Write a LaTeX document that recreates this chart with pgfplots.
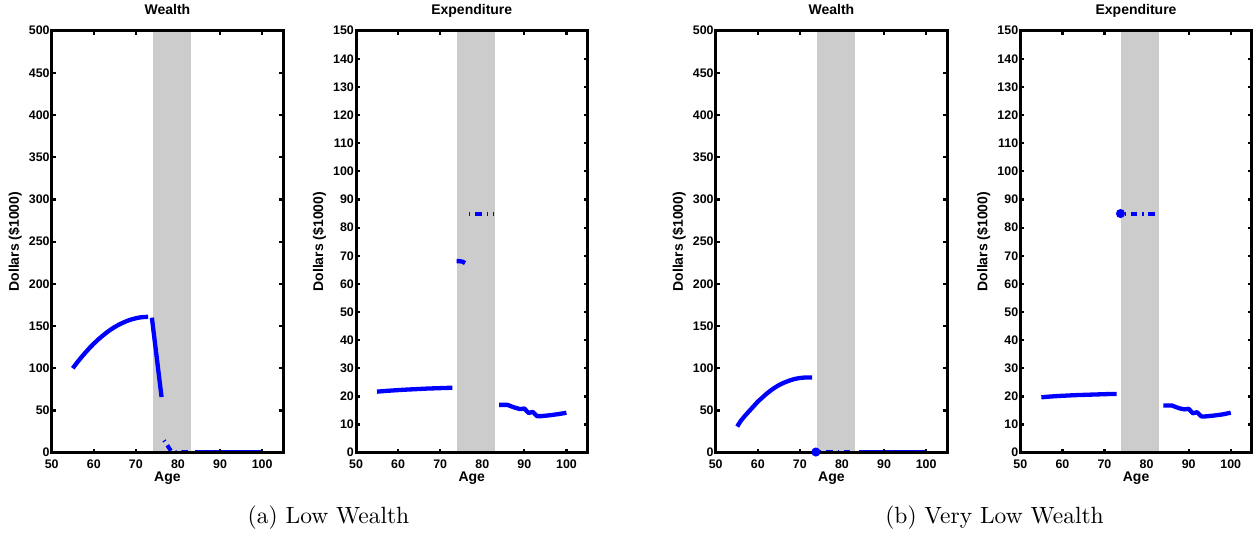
\documentclass[border=0pt]{standalone}
\usepackage{pgfplots}
\pgfplotsset{compat=1.18}
\usepackage{graphicx}
\usepackage{fontspec}
\newfontfamily\hel{Liberation Sans}
\definecolor{band}{gray}{0.8}
\pgfplotsset{
  mypanel/.style={
    scale only axis, width=231.5pt, height=422pt,
    anchor=south west,
    xmin=50, xmax=105, ymin=0,
    xtick={50,60,70,90,100},
    extra x ticks={80},
    extra x tick style={major tick length=0pt},
    tick align=inside, xtick pos=both, ytick pos=both,
    major tick length=4pt,
    every tick/.style={black, line width=2.2pt},
    axis line style={line width=3pt},
    tick label style={font=\hel\bfseries\fontsize{12.4}{14}\selectfont},
    xticklabel shift=3.2pt,
    yticklabel shift=-1.4pt,
    /pgf/number format/assume math mode=true,
    label style={font=\hel\bfseries\fontsize{14}{16}\selectfont},
    title style={font=\hel\bfseries\fontsize{14}{16}\selectfont, at={(axis description cs:0.5,1.0242)}, anchor=base},
    xlabel style={at={(axis description cs:0.5,-0.0694)}, anchor=base},
    ylabel style={at={(axis description cs:-0.1585,0.5)}, anchor=center},
    xlabel={Age}, ylabel={Dollars (\$1000)},
    axis on top,
  },
  wealth/.style={mypanel, ymax=500, ytick={0,50,...,500}, title={Wealth}},
  expend/.style={mypanel, ymax=150, ytick={0,10,...,150}, title={Expenditure}},
  solidline/.style={blue, line width=4.3pt, line join=round},
  dashline/.style={blue, line width=4pt, dash pattern=on 6.6pt off 5.2pt on 1.2pt off 4.6pt},
  startdot/.style={mark=*, mark indices={1}, mark size=2.4pt, mark options={solid, draw=none, fill=blue}},
}
\begin{document}
\begin{tikzpicture}[x=1pt,y=1pt]
\path[use as bounding box] (0,0) rectangle (1257,538);

% ---------- (a) Wealth ----------
\begin{axis}[wealth, at={(51.7pt,85.3pt)}]
\addplot[draw=none, fill=band, forget plot] coordinates {(74,500) (83,500)} \closedcycle;
\addplot[solidline] coordinates {(55,100) (56,106.6) (57,112.8) (58,118.6) (59,124.1) (60,129.2) (61,133.9) (62,138.2) (63,142.2) (64,145.8) (65,149.0) (66,151.8) (67,154.2) (68,156.3) (69,158.0) (70,159.3) (71,160.3) (72,160.8) (72.9,161)};
\addplot[solidline] coordinates {(73.8,160) (76.1,66)};
\addplot[dashline, dash phase=10.3pt] coordinates {(76.5,16) (77.3,10) (78.5,1) (79,0.8) (80,0.8) (81,0.8) (82,0.8) (83,0.8)};
\addplot[solidline] coordinates {(84,0.8) (100,0.8)};
\end{axis}

% ---------- (a) Expenditure ----------
\begin{axis}[expend, at={(356pt,85.3pt)}]
\addplot[draw=none, fill=band, forget plot] coordinates {(74,150) (83,150)} \closedcycle;
\addplot[solidline] coordinates {(55,21.7) (57,21.95) (59,22.15) (61,22.35) (63,22.5) (65,22.65) (67,22.8) (69,22.9) (71,23.0) (72.9,23.1)};
\addplot[solidline] coordinates {(73.9,68.1) (74.5,68.1) (75.3,67.9) (75.9,67.4)};
\addplot[dashline, dash phase=11.8pt] coordinates {(76.9,85) (82.8,85)};
\addplot[solidline] coordinates {(84,17) (86,17) (87,16.4) (88,15.9) (89,15.5) (90,15.7) (91,14.1) (92,14.5) (93,13.0) (94,13.0) (96,13.3) (98,13.7) (100,14.2)};
\end{axis}

% ---------- (b) Wealth ----------
\begin{axis}[wealth, at={(715.7pt,85.3pt)}]
\addplot[draw=none, fill=band, forget plot] coordinates {(74,500) (83,500)} \closedcycle;
\addplot[solidline] coordinates {(55.1,31) (56,38) (57,44) (58,49.5) (59,55) (60,60.5) (61,65) (62,69.5) (63,73.5) (64,77) (65,80) (66,82.5) (67,84.5) (68,86.3) (69,87.6) (70,88.5) (71,89) (72,89.2) (72.9,89.2)};
\addplot[dashline, dash phase=7.5pt, startdot] coordinates {(73.8,0.8) (82.8,0.8)};
\addplot[solidline] coordinates {(84,0.8) (100,0.8)};
\end{axis}

% ---------- (b) Expenditure ----------
\begin{axis}[expend, at={(1020.3pt,85.3pt)}]
\addplot[draw=none, fill=band, forget plot] coordinates {(74,150) (83,150)} \closedcycle;
\addplot[solidline] coordinates {(55,19.7) (57,19.95) (59,20.15) (61,20.3) (63,20.45) (65,20.55) (67,20.65) (69,20.75) (71,20.85) (72.9,20.9)};
\addplot[dashline, dash phase=7.5pt, startdot] coordinates {(73.8,85) (82.8,85)};
\addplot[solidline] coordinates {(84,16.8) (86,16.8) (87,16.2) (88,15.7) (89,15.4) (90,15.6) (91,14.0) (92,14.4) (93,12.9) (94,12.9) (96,13.2) (98,13.6) (100,14.2)};
\end{axis}

\node[anchor=base] at (328.5,15) {\scalebox{2.35}{\fontsize{10}{12}\selectfont (a) Low Wealth}};
\node[anchor=base] at (994.5,15) {\scalebox{2.35}{\fontsize{10}{12}\selectfont (b) Very Low Wealth}};
\end{tikzpicture}
\end{document}
